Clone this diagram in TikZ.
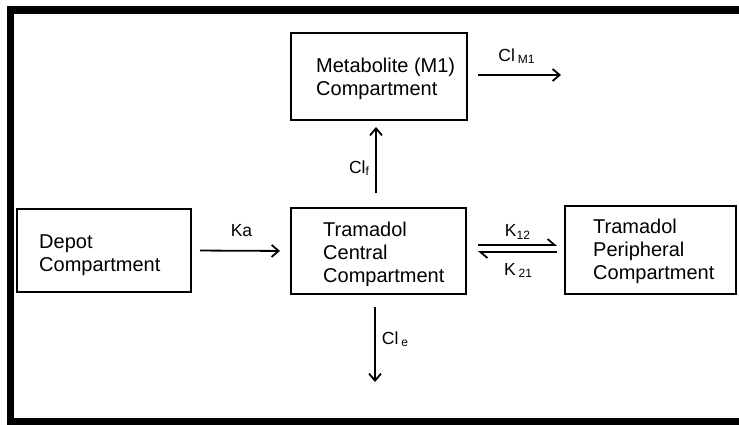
\documentclass[tikz,border=0pt]{standalone}
\usepackage{fontspec}
\setmainfont{Liberation Sans}
\usetikzlibrary{arrows.meta}
\newcommand\pksub[1]{\raisebox{-2.5pt}{\fontsize{12}{12}\selectfont #1}}
\tikzset{
  box/.style={draw, line width=2pt, rectangle, inner sep=0pt},
  boxtext/.style={anchor=west, align=left, inner sep=0pt, font=\fontsize{20}{23}\selectfont},
  lbl/.style={anchor=base, inner sep=0pt, font=\fontsize{17.5}{19}\selectfont},
  arr/.style={line width=1.8pt, -{Straight Barb[length=7pt,width=12pt]}},
  harp/.style={line width=1.8pt, -{Straight Barb[left,length=7pt,width=12pt]}},
  framebar/.style={line cap=butt, draw=black},
}
\begin{document}
\begin{tikzpicture}[x=1pt,y=-1pt]
\useasboundingbox (0,0) rectangle (739,425);
% frame (open on the right)
\draw[framebar, line width=8pt] (7,10) -- (745,10);
\draw[framebar, line width=7pt] (10.5,6) -- (10.5,430);
\draw[framebar, line width=7pt] (7,421.5) -- (745,421.5);
% boxes
\node[box, minimum width=176pt, minimum height=87pt] (metab) at (379,76.5) {};
\node[box, minimum width=175pt, minimum height=86pt] (central) at (378.5,251) {};
\node[box, minimum width=174pt, minimum height=83pt] (depot) at (104,250.5) {};
\node[box, minimum width=171pt, minimum height=88pt] (periph) at (650.5,250) {};
% texts
\node[boxtext] (metabt) at (316,79.3) {Metabolite (M1)\\Compartment};
\node[boxtext] (centralt) at (323,254) {Tramadol\\Central\\Compartment};
\node[boxtext] (depott) at (39,255.5) {Depot\\Compartment};
\node[boxtext] (peripht) at (593,251) {Tramadol\\Peripheral\\Compartment};
% free ends
\coordinate (m1out) at (561,75);
\coordinate (eout) at (375,382);
% connectors
\draw[arr, shorten <=8pt, shorten >=10pt] (depot.east) -- (central.west);
\draw[arr, shorten <=14pt, shorten >=6pt] ([xshift=-2.5pt]central.north) -- ([xshift=-3pt]metab.south);
\draw[arr, shorten <=10pt] (metab.east |- m1out) -- (m1out);
\draw[arr, shorten <=12pt] (central.south -| eout) -- (eout);
\draw[harp, shorten <=11pt, shorten >=7pt] ([yshift=6pt]central.east) -- ([yshift=6pt]central.east -| periph.west);
\draw[harp, shorten <=7pt, shorten >=11pt] ([yshift=-1pt]central.east -| periph.west) -- ([yshift=-1pt]central.east);
% labels
\node[lbl] (ka) at (241.5,236.5) {Ka};
\node[lbl] (clm1) at (516.5,61.5) {Cl\,\pksub{M1}};
\node[lbl] (clf) at (359,173) {Cl\pksub{f}};
\node[lbl] (k12) at (517.5,236.5) {K\pksub{12}};
\node[lbl] (k21) at (518,275) {K\,\pksub{21}};
\node[lbl] (cle) at (395,344) {Cl\,\pksub{e}};
\end{tikzpicture}
\end{document}
